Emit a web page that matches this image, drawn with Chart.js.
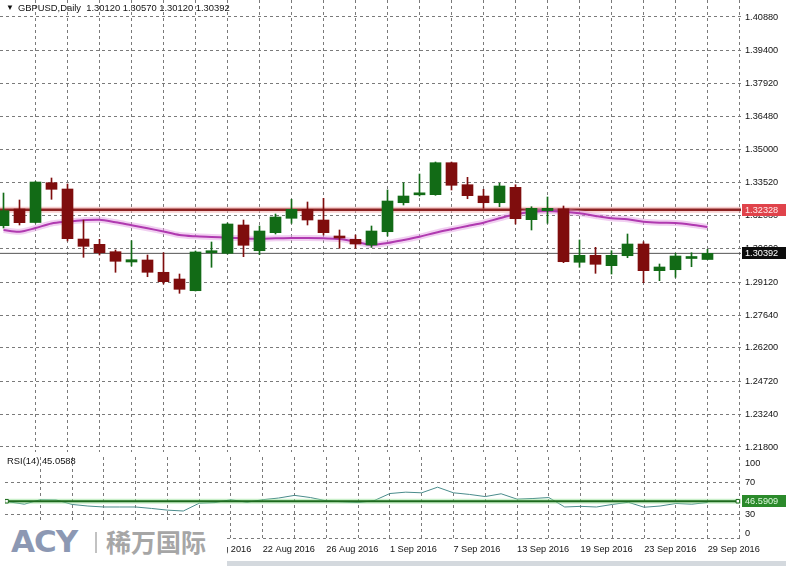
<!DOCTYPE html>
<html lang="es">
<head>
<meta charset="utf-8">
<title>GBPUSD Daily</title>
<script src="https://cdn.jsdelivr.net/npm/chart.js@4.4.1/dist/chart.umd.min.js"></script>
<style>
  html, body { margin: 0; padding: 0; background: #fff; }
  #lienzo { position: relative; width: 786px; height: 566px; overflow: hidden; font-family: "Liberation Sans", Arial, sans-serif; }
  #graficaPrecio { position: absolute; left: 0; top: 0; }
  #graficaRSI { position: absolute; left: 0; top: 452px; }
  .texto { position: absolute; font-size: 9.4px; line-height: 11px; color: #111; white-space: pre; z-index: 2; }
  #logo { position: absolute; left: 0; top: 522px; width: 227px; height: 44px; background: #fff; z-index: 3; }
  #logo .acy { position: absolute; left: 11px; top: 0px; font-family: "DejaVu Sans", sans-serif; font-weight: bold; font-size: 31px; line-height: 38px; color: #8c98b3; letter-spacing: -1px; }
  #logo .barra { position: absolute; left: 95px; top: 10px; width: 2px; height: 21px; background: #c2c2c2; }
  #logo .cn { position: absolute; left: 106px; top: 1px; font-family: "Noto Sans CJK SC", sans-serif; font-weight: bold; font-size: 25px; line-height: 36px; color: #a6a6a6; }
  #scroll { position: absolute; left: 227px; top: 561px; width: 559px; height: 5px; background: #d4d9de; z-index: 2; }
</style>
</head>
<body>
<div id="lienzo">
  <canvas id="graficaPrecio" width="786" height="452"></canvas>
  <canvas id="graficaRSI" width="786" height="114"></canvas>
  <div class="texto" style="left:6px; top:2px; font-size:8px;">▼</div>
  <div class="texto" style="left:18px; top:2px;">GBPUSD,Daily  1.30120 1.30570 1.30120 1.30392</div>
  <div class="texto" style="left:7px; top:455px;">RSI(14) 45.0588</div>
  <div id="logo"><span class="acy">ACY</span><span class="barra"></span><span class="cn">稀万国际</span></div>
  <div id="scroll"></div>
</div>
<script>
const fechas = ['29 Jul 2016', '1 Aug 2016', '2 Aug 2016', '3 Aug 2016', '4 Aug 2016', '5 Aug 2016', '8 Aug 2016', '9 Aug 2016',
    '10 Aug 2016', '11 Aug 2016', '12 Aug 2016', '15 Aug 2016', '16 Aug 2016', '17 Aug 2016', '18 Aug 2016', '19 Aug 2016',
    '22 Aug 2016', '23 Aug 2016', '24 Aug 2016', '25 Aug 2016', '26 Aug 2016', '29 Aug 2016', '30 Aug 2016', '31 Aug 2016',
    '1 Sep 2016', '2 Sep 2016', '5 Sep 2016', '6 Sep 2016', '7 Sep 2016', '8 Sep 2016', '9 Sep 2016', '12 Sep 2016',
    '13 Sep 2016', '14 Sep 2016', '15 Sep 2016', '16 Sep 2016', '19 Sep 2016', '20 Sep 2016', '21 Sep 2016', '22 Sep 2016',
    '23 Sep 2016', '26 Sep 2016', '27 Sep 2016', '28 Sep 2016', '29 Sep 2016'];

const apertura = [1.31619, 1.32360, 1.31761, 1.33527, 1.33248, 1.31029, 1.30794, 1.30466, 1.30009, 1.30098, 1.29552, 1.29254,
    1.28735, 1.30421, 1.30395, 1.31651, 1.30510, 1.31309, 1.31948, 1.32347, 1.31872, 1.31096, 1.31016, 1.30763,
    1.31353, 1.32640, 1.32990, 1.32995, 1.34415, 1.33439, 1.32937, 1.32640, 1.33323, 1.31886, 1.32285, 1.32369,
    1.29996, 1.30306, 1.29845, 1.30288, 1.30807, 1.29623, 1.29667, 1.30164, 1.30120];
const maximo = [1.33070, 1.32760, 1.33580, 1.33736, 1.33470, 1.31872, 1.31016, 1.30541, 1.30954, 1.30319, 1.30421, 1.29476,
    1.30497, 1.30896, 1.31739, 1.31872, 1.31606, 1.32139, 1.32791, 1.32671, 1.32835, 1.31429, 1.31207, 1.31606,
    1.33204, 1.33527, 1.33913, 1.34446, 1.34446, 1.33767, 1.33234, 1.33501, 1.33439, 1.32462, 1.32893, 1.32494,
    1.30985, 1.30661, 1.30510, 1.31251, 1.30909, 1.29920, 1.30395, 1.30421, 1.30570];
const minimo = [1.31517, 1.31651, 1.31739, 1.32791, 1.30941, 1.30217, 1.30319, 1.29552, 1.29831, 1.29356, 1.29033, 1.28620,
    1.28722, 1.29774, 1.30364, 1.30244, 1.30333, 1.31251, 1.31726, 1.31651, 1.31207, 1.30617, 1.30617, 1.30661,
    1.31162, 1.32538, 1.32937, 1.32968, 1.33204, 1.32817, 1.32391, 1.32462, 1.31695, 1.31429, 1.31726, 1.29978,
    1.29774, 1.29507, 1.29476, 1.30199, 1.29090, 1.29179, 1.29330, 1.29800, 1.30120];
const cierre = [1.32285, 1.31753, 1.33558, 1.33234, 1.31043, 1.30705, 1.30421, 1.30040, 1.30111, 1.29552, 1.29135, 1.28797,
    1.30453, 1.30439, 1.31695, 1.30750, 1.31384, 1.32005, 1.32347, 1.31872, 1.31309, 1.31074, 1.30807, 1.31384,
    1.32715, 1.32937, 1.33013, 1.34415, 1.33412, 1.32951, 1.32640, 1.33381, 1.31930, 1.32391, 1.32391, 1.30022,
    1.30306, 1.29907, 1.30306, 1.30807, 1.29623, 1.29787, 1.30275, 1.30186, 1.30392];

// media movil (linea magenta)
const media = [1.31429, 1.31353, 1.31517, 1.31717, 1.31797, 1.31859, 1.31886, 1.31770, 1.31637, 1.31504, 1.31362, 1.31207,
    1.31149, 1.31118, 1.31087, 1.31060, 1.31043, 1.31060, 1.31074, 1.31074, 1.31060, 1.31029, 1.30910, 1.30763,
    1.30852, 1.30985, 1.31131, 1.31309, 1.31460, 1.31606, 1.31753, 1.31948, 1.32125, 1.32227, 1.32272, 1.32241,
    1.32170, 1.32050, 1.31948, 1.31903, 1.31797, 1.31753, 1.31739, 1.31664, 1.31562];

const rsi = [45.9, 42.9, 48.5, 48.2, 42.6, 40.6, 39.4, 39.4, 39.4, 37.6, 35.5, 34.4,
    44.1, 44.9, 48.5, 45.3, 48.5, 50.6, 53.9, 51.2, 47.1, 45.9, 44.9, 47.3,
    56.2, 57.9, 57.1, 64.1, 57.1, 55.1, 52.4, 55.9, 49.2, 50.0, 51.2, 39.4,
    40.2, 39.4, 42.6, 45.3, 39.1, 40.6, 43.8, 42.9, 45.0588];

const nivelesPrecio = [1.21800, 1.23240, 1.24720, 1.26200, 1.27640, 1.29120, 1.30600, 1.32080, 1.33520, 1.35000, 1.36480, 1.37920, 1.39400, 1.40880];
const nivelesRSI = [0, 30, 70, 100];
const marcasX = [0, 2, 4, 6, 8, 10, 12, 14, 16, 18, 20, 22, 24, 26, 28, 30, 32, 34, 36, 38, 40, 42, 44, 46];

const lineaRoja = 1.32328;
const lineaGris = 1.30392;
const lineaRSI = 46.5909;

const X_MIN = -0.21875, X_MAX = 46.09375;
const VERDE = '#126b16', ROJO = '#7f0d0d', REJILLA = '#7a7a7a';

Chart.defaults.font.family = '"Liberation Sans", Arial, sans-serif';
Chart.defaults.font.size = 9.2;
Chart.defaults.color = '#111';

function colorVela(ctx) {
    const i = ctx.dataIndex;
    return cierre[i] >= apertura[i] ? VERDE : ROJO;
}

function ejeX(conFechas) {
    return {
        type: 'linear', min: X_MIN, max: X_MAX, offset: false,
        afterBuildTicks: eje => { eje.ticks = marcasX.map(v => ({ value: v })); },
        afterFit: eje => { eje.paddingLeft = 0; eje.paddingRight = 0; if (conFechas) eje.height = 26; },
        grid: { offset: false, drawTicks: false, color: c => (c.tick && c.tick.value === 0) ? 'rgba(0,0,0,0)' : REJILLA },
        border: { display: false, dash: [3, 3] },
        ticks: {
            display: conFechas, autoSkip: false, maxRotation: 0, align: 'start', padding: 4,
            callback: v => (v % 4 === 0 && fechas[v]) ? fechas[v] : ''
        }
    };
}

function etiquetasEje(lista) {
    return {
        id: 'etiquetasEje',
        afterDraw(chart) {
            const ctx = chart.ctx;
            const eje = chart.scales.y;
            const x0 = chart.chartArea.right + 1;
            lista.forEach(e => {
                const y = Math.round(eje.getPixelForValue(e.valor));
                ctx.save();
                ctx.fillStyle = e.fondo;
                ctx.fillRect(x0, y - 6, 786 - x0, 12);
                ctx.fillStyle = e.color;
                ctx.font = '9.2px "Liberation Sans", Arial, sans-serif';
                ctx.textBaseline = 'middle';
                ctx.fillText(e.texto, x0 + 3, y + 0.5);
                ctx.restore();
            });
        }
    };
}

const puntos = arr => arr.map((v, i) => ({ x: i, y: v }));
const horizontal = nivel => [{ x: X_MIN, y: nivel }, { x: X_MAX, y: nivel }];

new Chart(document.getElementById('graficaPrecio'), {
    type: 'bar',
    data: {
        datasets: [
            { type: 'bar', data: fechas.map((f, i) => ({ x: i, y: [apertura[i], cierre[i]] })), backgroundColor: colorVela,
              barThickness: 11, grouped: false, minBarLength: 2, borderWidth: 0, order: 1 },
            { type: 'bar', data: fechas.map((f, i) => ({ x: i, y: [minimo[i], maximo[i]] })), backgroundColor: colorVela,
              barThickness: 1, grouped: false, borderWidth: 0, order: 2 },
            { type: 'line', data: puntos(media), borderColor: '#b03ab0', borderWidth: 2, pointRadius: 0, tension: 0.3, order: 4 },
            { type: 'line', data: puntos(media), borderColor: 'rgba(228,160,228,0.5)', borderWidth: 6, pointRadius: 0, tension: 0.3, order: 5 },
            { type: 'line', data: horizontal(lineaRoja), borderColor: '#8c2222', borderWidth: 2.5, pointRadius: 0, order: 6 },
            { type: 'line', data: horizontal(lineaRoja), borderColor: 'rgba(240,160,160,0.5)', borderWidth: 6, pointRadius: 0, order: 7 },
            { type: 'line', data: horizontal(lineaGris), borderColor: '#555', borderWidth: 1, pointRadius: 0, order: 8 }
        ]
    },
    options: {
        responsive: false, animation: false,
        layout: { padding: 0 },
        plugins: { legend: { display: false }, tooltip: { enabled: false } },
        scales: {
            x: ejeX(false),
            y: {
                type: 'linear', position: 'right', min: 1.215781, max: 1.416343, beginAtZero: false,
                afterBuildTicks: eje => { eje.ticks = nivelesPrecio.map(v => ({ value: v })); },
                afterFit: eje => { eje.width = 45; eje.paddingTop = 0; eje.paddingBottom = 0; },
                grid: { drawTicks: false, color: REJILLA },
                border: { display: false, dash: [3, 3] },
                ticks: { padding: 4, callback: v => v.toFixed(5) }
            }
        }
    },
    plugins: [etiquetasEje([
        { valor: lineaRoja, texto: '1.32328', fondo: '#e0434b', color: '#ffecec' },
        { valor: lineaGris, texto: '1.30392', fondo: '#0c0c0c', color: '#ffffff' }
    ])]
});

new Chart(document.getElementById('graficaRSI'), {
    type: 'line',
    data: {
        datasets: [
            { data: horizontal(lineaRSI).map((p, k) => ({ x: k === 0 ? X_MIN + 0.1 : X_MAX - 0.2, y: p.y })), borderColor: '#1d6a1d',
              borderWidth: 2, pointStyle: 'rect', pointRadius: 2.5, pointBackgroundColor: '#fff', pointBorderColor: '#1d6a1d',
              pointBorderWidth: 1, order: 1 },
            { data: horizontal(lineaRSI), borderColor: 'rgba(150,225,150,0.5)', borderWidth: 5, pointRadius: 0, order: 2 },
            { data: puntos(rsi), borderColor: '#4a8c8c', borderWidth: 1, pointRadius: 0, tension: 0, order: 3 }
        ]
    },
    options: {
        responsive: false, animation: false,
        layout: { padding: 0 },
        plugins: { legend: { display: false }, tooltip: { enabled: false } },
        scales: {
            x: ejeX(true),
            y: {
                type: 'linear', position: 'right', min: -1.76, max: 101.76,
                afterBuildTicks: eje => { eje.ticks = nivelesRSI.map(v => ({ value: v })); },
                afterFit: eje => { eje.width = 45; eje.paddingTop = 0; eje.paddingBottom = 0; },
                grid: { drawTicks: false, color: c => (c.tick && c.tick.value === 100) ? 'rgba(0,0,0,0)' : REJILLA },
                border: { display: false, dash: [3, 3] },
                ticks: {
                    padding: 4,
                    callback: v => v === 100 ? ['', '100'] : (v === 0 ? ['0', ''] : String(v))
                }
            }
        }
    },
    plugins: [etiquetasEje([
        { valor: lineaRSI, texto: '46.5909', fondo: '#2b8a2b', color: '#dcf7dc' }
    ])]
});
</script>
</body>
</html>
